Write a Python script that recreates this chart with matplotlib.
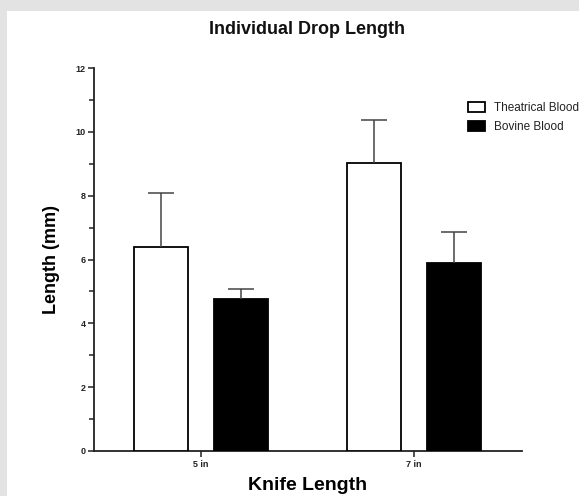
import matplotlib
matplotlib.use("Agg")
import matplotlib.pyplot as plt
import numpy as np
from matplotlib.patches import Rectangle
from matplotlib.ticker import MultipleLocator

categories = ['5 in', '7 in']
series_names = ['Theatrical Blood', 'Bovine Blood']
theatrical = [6.38, 9.02]
theatrical_err = [1.70, 1.36]
bovine = [4.76, 5.88]
bovine_err = [0.33, 0.98]

plt.rcParams['font.family'] = ['Liberation Sans', 'DejaVu Sans']

fig = plt.figure(figsize=(5.79, 4.96), dpi=100)
fig.patch.set_facecolor('#e3e3e3')
# white panel
fig.patches.append(Rectangle((7/579, 0), 1 - 7/579, 1 - 11/496,
                             transform=fig.transFigure, facecolor='white',
                             edgecolor='none', zorder=-10))

ax = fig.add_axes([94/579, 45/496, 428/579, 383/496])
ax.set_facecolor('none')
ax.set_zorder(5)

x = np.arange(len(categories))
w = 0.253
off = 0.187
ekw = dict(ecolor='#444444', elinewidth=1.1, capsize=9.7, capthick=1.1)
c1 = ax.bar(x - off, theatrical, w, color='white', edgecolor='black', linewidth=1.3,
            yerr=[np.zeros(2), theatrical_err], error_kw=ekw, label=series_names[0], zorder=3)
c2 = ax.bar(x + off, bovine, w, color='black', edgecolor='black', linewidth=1.3,
            yerr=[np.zeros(2), bovine_err], error_kw=ekw, label=series_names[1], zorder=3)
for c in (c1, c2):
    caps = c.errorbar.lines[1]
    # hide the cap at the bar top (lower end of the one-sided error bar)
    caps[0].set_visible(False)

ax.set_xlim(-0.5, 1.505)
ax.set_ylim(0, 12)
ax.set_xticks(x)
ax.set_xticklabels(categories, fontsize=6.5, fontweight='bold')
ax.yaxis.set_major_locator(MultipleLocator(2))
ax.yaxis.set_minor_locator(MultipleLocator(1))
for lab in ax.get_yticklabels():
    lab.set_fontsize(6.5)
    lab.set_fontweight('bold')

for s in ['top', 'right']:
    ax.spines[s].set_visible(False)
for s in ['left', 'bottom']:
    ax.spines[s].set_linewidth(1.3)
    ax.spines[s].set_color('#222222')
ax.tick_params(axis='y', which='major', length=4.5, width=1.1, pad=1.5, colors='#222222')
ax.tick_params(axis='y', which='minor', length=3.5, width=1.1, colors='#222222')
ax.tick_params(axis='x', which='major', length=4.5, width=1.1, pad=2, colors='#222222')

ax.set_ylabel('Length (mm)', fontsize=13, fontweight='bold', labelpad=11)
ax.set_xlabel('Knife Length', fontsize=14, fontweight='bold', labelpad=6)

fig.text(307/579, 1 - 29/496, 'Individual Drop Length', ha='center', va='center',
         fontsize=13, fontweight='bold', color='#111111')

leg = fig.legend(loc='upper left', bbox_to_anchor=(468/579, 1 - 102/496),
                 frameon=False, fontsize=8.5, handlelength=1.4, handleheight=0.95,
                 handletextpad=0.8, labelspacing=0.6, borderpad=0, borderaxespad=0)
for t in leg.get_texts():
    t.set_color('#222222')

fig.savefig('out.png', dpi=100, facecolor=fig.get_facecolor())
